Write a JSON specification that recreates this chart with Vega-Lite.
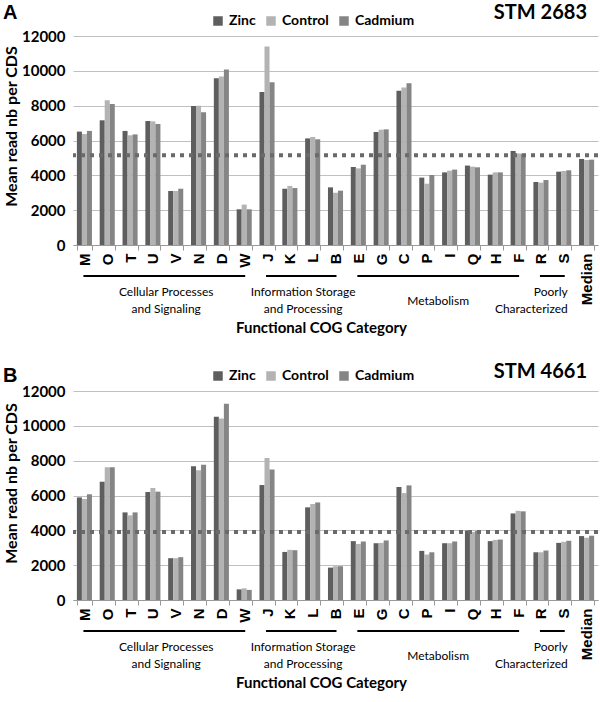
{
  "$schema": "https://vega.github.io/schema/vega-lite/v6.json",
  "padding": {"left": 3, "top": 3, "right": 2, "bottom": 0},
  "background": "white",
  "bounds": "flush",
  "spacing": 146,
  "config": {"view": {"stroke": null}, "font": "Lato"},
  "resolve": {"scale": {"color": "independent"}, "legend": {"color": "independent"}},
  "datasets": {
    "a": [
      {"c":"M","s":"Zinc","v":6510},{"c":"M","s":"Control","v":6370},{"c":"M","s":"Cadmium","v":6550},
      {"c":"O","s":"Zinc","v":7160},{"c":"O","s":"Control","v":8310},{"c":"O","s":"Cadmium","v":8100},
      {"c":"T","s":"Zinc","v":6550},{"c":"T","s":"Control","v":6300},{"c":"T","s":"Cadmium","v":6350},
      {"c":"U","s":"Zinc","v":7120},{"c":"U","s":"Control","v":7100},{"c":"U","s":"Cadmium","v":6950},
      {"c":"V","s":"Zinc","v":3100},{"c":"V","s":"Control","v":3100},{"c":"V","s":"Cadmium","v":3230},
      {"c":"N","s":"Zinc","v":7980},{"c":"N","s":"Control","v":8000},{"c":"N","s":"Cadmium","v":7620},
      {"c":"D","s":"Zinc","v":9570},{"c":"D","s":"Control","v":9680},{"c":"D","s":"Cadmium","v":10070},
      {"c":"W","s":"Zinc","v":2050},{"c":"W","s":"Control","v":2320},{"c":"W","s":"Cadmium","v":2050},
      {"c":"J","s":"Zinc","v":8780},{"c":"J","s":"Control","v":11400},{"c":"J","s":"Cadmium","v":9340},
      {"c":"K","s":"Zinc","v":3230},{"c":"K","s":"Control","v":3390},{"c":"K","s":"Cadmium","v":3270},
      {"c":"L","s":"Zinc","v":6120},{"c":"L","s":"Control","v":6200},{"c":"L","s":"Cadmium","v":6070},
      {"c":"B","s":"Zinc","v":3310},{"c":"B","s":"Control","v":3000},{"c":"B","s":"Cadmium","v":3120},
      {"c":"E","s":"Zinc","v":4480},{"c":"E","s":"Control","v":4400},{"c":"E","s":"Cadmium","v":4610},
      {"c":"G","s":"Zinc","v":6490},{"c":"G","s":"Control","v":6620},{"c":"G","s":"Cadmium","v":6640},
      {"c":"C","s":"Zinc","v":8860},{"c":"C","s":"Control","v":9050},{"c":"C","s":"Cadmium","v":9280},
      {"c":"P","s":"Zinc","v":3870},{"c":"P","s":"Control","v":3520},{"c":"P","s":"Cadmium","v":4020},
      {"c":"I","s":"Zinc","v":4170},{"c":"I","s":"Control","v":4270},{"c":"I","s":"Cadmium","v":4330},
      {"c":"Q","s":"Zinc","v":4560},{"c":"Q","s":"Control","v":4500},{"c":"Q","s":"Cadmium","v":4460},
      {"c":"H","s":"Zinc","v":4040},{"c":"H","s":"Control","v":4170},{"c":"H","s":"Cadmium","v":4170},
      {"c":"F","s":"Zinc","v":5400},{"c":"F","s":"Control","v":5260},{"c":"F","s":"Cadmium","v":5240},
      {"c":"R","s":"Zinc","v":3620},{"c":"R","s":"Control","v":3580},{"c":"R","s":"Cadmium","v":3730},
      {"c":"S","s":"Zinc","v":4210},{"c":"S","s":"Control","v":4250},{"c":"S","s":"Cadmium","v":4290},
      {"c":"Median","s":"Zinc","v":4940},{"c":"Median","s":"Control","v":4880},{"c":"Median","s":"Cadmium","v":4900}
    ],
    "b": [
      {"c":"M","s":"Zinc","v":5890},{"c":"M","s":"Control","v":5800},{"c":"M","s":"Cadmium","v":6070},
      {"c":"O","s":"Zinc","v":6790},{"c":"O","s":"Control","v":7620},{"c":"O","s":"Cadmium","v":7620},
      {"c":"T","s":"Zinc","v":5030},{"c":"T","s":"Control","v":4860},{"c":"T","s":"Cadmium","v":5030},
      {"c":"U","s":"Zinc","v":6200},{"c":"U","s":"Control","v":6430},{"c":"U","s":"Cadmium","v":6220},
      {"c":"V","s":"Zinc","v":2400},{"c":"V","s":"Control","v":2400},{"c":"V","s":"Cadmium","v":2460},
      {"c":"N","s":"Zinc","v":7680},{"c":"N","s":"Control","v":7450},{"c":"N","s":"Cadmium","v":7770},
      {"c":"D","s":"Zinc","v":10520},{"c":"D","s":"Control","v":10420},{"c":"D","s":"Cadmium","v":11270},
      {"c":"W","s":"Zinc","v":610},{"c":"W","s":"Control","v":670},{"c":"W","s":"Cadmium","v":580},
      {"c":"J","s":"Zinc","v":6600},{"c":"J","s":"Control","v":8160},{"c":"J","s":"Cadmium","v":7500},
      {"c":"K","s":"Zinc","v":2760},{"c":"K","s":"Control","v":2880},{"c":"K","s":"Cadmium","v":2860},
      {"c":"L","s":"Zinc","v":5320},{"c":"L","s":"Control","v":5510},{"c":"L","s":"Cadmium","v":5600},
      {"c":"B","s":"Zinc","v":1860},{"c":"B","s":"Control","v":1940},{"c":"B","s":"Cadmium","v":1940},
      {"c":"E","s":"Zinc","v":3380},{"c":"E","s":"Control","v":3220},{"c":"E","s":"Cadmium","v":3360},
      {"c":"G","s":"Zinc","v":3260},{"c":"G","s":"Control","v":3280},{"c":"G","s":"Cadmium","v":3420},
      {"c":"C","s":"Zinc","v":6490},{"c":"C","s":"Control","v":6140},{"c":"C","s":"Cadmium","v":6580},
      {"c":"P","s":"Zinc","v":2820},{"c":"P","s":"Control","v":2610},{"c":"P","s":"Cadmium","v":2740},
      {"c":"I","s":"Zinc","v":3260},{"c":"I","s":"Control","v":3260},{"c":"I","s":"Cadmium","v":3360},
      {"c":"Q","s":"Zinc","v":3990},{"c":"Q","s":"Control","v":3900},{"c":"Q","s":"Cadmium","v":3970},
      {"c":"H","s":"Zinc","v":3380},{"c":"H","s":"Control","v":3450},{"c":"H","s":"Cadmium","v":3470},
      {"c":"F","s":"Zinc","v":4970},{"c":"F","s":"Control","v":5120},{"c":"F","s":"Cadmium","v":5090},
      {"c":"R","s":"Zinc","v":2740},{"c":"R","s":"Control","v":2740},{"c":"R","s":"Cadmium","v":2840},
      {"c":"S","s":"Zinc","v":3280},{"c":"S","s":"Control","v":3340},{"c":"S","s":"Cadmium","v":3400},
      {"c":"Median","s":"Zinc","v":3670},{"c":"Median","s":"Control","v":3570},{"c":"Median","s":"Cadmium","v":3690}
    ],
    "medA": [{"m": 5150}],
    "medB": [{"m": 3900}],
    "spans": [
      {"c":"M","e":"W"},{"c":"J","e":"B"},{"c":"E","e":"F"},{"c":"R","e":"S"}
    ],
    "labels2": [
      {"c":"V","g":"Cellular Processes\nand Signaling"},
      {"c":"L","g":"Information Storage\nand Processing"}
    ],
    "labels1": [
      {"c":"I","g":"Metabolism"}
    ],
    "labelsR": [
      {"c":"S","g":"Poorly\nCharacterized"}
    ]
  },
  "vconcat": [
    {
      "width": 525, "height": 209,
      "layer": [
        {
          "data": {"name": "a"},
          "mark": {"type": "bar"},
          "encoding": {
            "x": {"field": "c", "type": "nominal", "sort": null,
              "scale": {"domain": ["M","O","T","U","V","N","D","W","J","K","L","B","E","G","C","P","I","Q","H","F","R","S","Median"], "paddingInner": 0.34, "paddingOuter": 0.17},
              "axis": {"title": "Functional COG Category", "labelAngle": 270, "labelFont": "Liberation Sans", "labelFontSize": 15, "labelFontWeight": "bold", "labelColor": "black", "labelPadding": 3, "tickBand": "extent", "tickSize": 5, "tickColor": "#999999", "domainColor": "#999999", "titleFont": "Lato", "titleFontSize": 15, "titleFontWeight": "bold", "titleColor": "black", "titlePadding": 16, "titleX": 248}},
            "xOffset": {"field": "s", "type": "nominal", "sort": null, "scale": {"domain": ["Zinc","Control","Cadmium"], "paddingInner": 0, "paddingOuter": 0}},
            "y": {"field": "v", "type": "quantitative",
              "scale": {"domain": [0, 12000], "nice": false},
              "axis": {"title": "Mean read nb per CDS", "values": [0,2000,4000,6000,8000,10000,12000], "format": "d", "labelOverlap": false, "labelFont": "Lato", "labelFontSize": 15, "labelFontWeight": "bold", "labelColor": "black", "labelPadding": 8, "domain": false, "ticks": false, "gridColor": "#c0c0c0", "titleFont": "Lato", "titleFontSize": 16, "titleFontWeight": "bold", "titleColor": "black", "titlePadding": 2, "titleY": 90}},
            "color": {"field": "s", "type": "nominal", "sort": null,
              "scale": {"domain": ["Zinc","Control","Cadmium"], "range": ["#5e5e5e","#b3b3b3","#858585"]},
              "legend": {"orient": "none", "legendX": 138, "legendY": -22, "direction": "horizontal", "title": null, "symbolType": "square", "symbolSize": 90, "symbolStrokeWidth": 0, "labelFont": "Lato", "labelFontSize": 14, "labelFontWeight": "bold", "labelColor": "black", "columnPadding": 8, "labelOffset": 4}}
          }
        },
        {
          "data": {"name": "medA"},
          "mark": {"type": "rule", "stroke": "#6a6a6a", "strokeWidth": 4, "strokeDash": [4, 5]},
          "encoding": {"y": {"field": "m", "type": "quantitative", "axis": {"title": "Mean read nb per CDS", "values": [0,2000,4000,6000,8000,10000,12000], "format": "d", "labelOverlap": false}}}
        },
        {
          "data": {"name": "spans"},
          "mark": {"type": "rule", "stroke": "black", "strokeWidth": 2, "strokeCap": "square"},
          "encoding": {"x": {"field": "c", "type": "nominal"}, "x2": {"field": "e"}, "y": {"datum": -1780, "axis": {"title": "Mean read nb per CDS", "values": [0,2000,4000,6000,8000,10000,12000], "format": "d", "labelOverlap": false}}}
        },
        {
          "data": {"name": "labels2"},
          "mark": {"type": "text", "font": "Lato", "fontSize": 12, "color": "black", "align": "center", "baseline": "middle", "lineBreak": "\n", "lineHeight": 17, "dx": -2},
          "encoding": {"x": {"field": "c", "type": "nominal", "bandPosition": 0}, "y": {"datum": -2700, "axis": {"title": "Mean read nb per CDS", "values": [0,2000,4000,6000,8000,10000,12000], "format": "d", "labelOverlap": false}}, "text": {"field": "g"}}
        },
        {
          "data": {"name": "labels1"},
          "mark": {"type": "text", "font": "Lato", "fontSize": 12, "color": "black", "align": "center", "baseline": "middle", "dx": -4},
          "encoding": {"x": {"field": "c", "type": "nominal", "bandPosition": 0}, "y": {"datum": -3190, "axis": {"title": "Mean read nb per CDS", "values": [0,2000,4000,6000,8000,10000,12000], "format": "d", "labelOverlap": false}}, "text": {"field": "g"}}
        },
        {
          "data": {"name": "labelsR"},
          "mark": {"type": "text", "font": "Lato", "fontSize": 12, "color": "black", "align": "right", "baseline": "middle", "lineBreak": "\n", "lineHeight": 17, "dx": 4},
          "encoding": {"x": {"field": "c", "type": "nominal"}, "y": {"datum": -2700, "axis": {"title": "Mean read nb per CDS", "values": [0,2000,4000,6000,8000,10000,12000], "format": "d", "labelOverlap": false}}, "text": {"field": "g"}}
        },
        {
          "data": {"values": [{"t": "A", "n": "STM 2683"}]},
          "layer": [
            {"mark": {"type": "text", "font": "Liberation Sans", "fontSize": 20, "fontWeight": "bold", "color": "black", "align": "left", "baseline": "top"},
             "encoding": {"x": {"value": -70}, "y": {"value": -33}, "text": {"field": "t"}}},
            {"mark": {"type": "text", "font": "Lato", "fontSize": 20, "fontWeight": "bold", "color": "black", "align": "right", "baseline": "top"},
             "encoding": {"x": {"value": 514}, "y": {"value": -33}, "text": {"field": "n"}}}
          ]
        }
      ]
    },
    {
      "width": 525, "height": 209,
      "layer": [
        {
          "data": {"name": "b"},
          "mark": {"type": "bar"},
          "encoding": {
            "x": {"field": "c", "type": "nominal", "sort": null,
              "scale": {"domain": ["M","O","T","U","V","N","D","W","J","K","L","B","E","G","C","P","I","Q","H","F","R","S","Median"], "paddingInner": 0.34, "paddingOuter": 0.17},
              "axis": {"title": "Functional COG Category", "labelAngle": 270, "labelFont": "Liberation Sans", "labelFontSize": 15, "labelFontWeight": "bold", "labelColor": "black", "labelPadding": 3, "tickBand": "extent", "tickSize": 5, "tickColor": "#999999", "domainColor": "#999999", "titleFont": "Lato", "titleFontSize": 15, "titleFontWeight": "bold", "titleColor": "black", "titlePadding": 16, "titleX": 248}},
            "xOffset": {"field": "s", "type": "nominal", "sort": null, "scale": {"domain": ["Zinc","Control","Cadmium"], "paddingInner": 0, "paddingOuter": 0}},
            "y": {"field": "v", "type": "quantitative",
              "scale": {"domain": [0, 12000], "nice": false},
              "axis": {"title": "Mean read nb per CDS", "values": [0,2000,4000,6000,8000,10000,12000], "format": "d", "labelOverlap": false, "labelFont": "Lato", "labelFontSize": 15, "labelFontWeight": "bold", "labelColor": "black", "labelPadding": 8, "domain": false, "ticks": false, "gridColor": "#c0c0c0", "titleFont": "Lato", "titleFontSize": 16, "titleFontWeight": "bold", "titleColor": "black", "titlePadding": 2, "titleY": 92}},
            "color": {"field": "s", "type": "nominal", "sort": null,
              "scale": {"domain": ["Zinc","Control","Cadmium"], "range": ["#5e5e5e","#b3b3b3","#858585"]},
              "legend": {"orient": "none", "legendX": 138, "legendY": -22, "direction": "horizontal", "title": null, "symbolType": "square", "symbolSize": 90, "symbolStrokeWidth": 0, "labelFont": "Lato", "labelFontSize": 14, "labelFontWeight": "bold", "labelColor": "black", "columnPadding": 8, "labelOffset": 4}}
          }
        },
        {
          "data": {"name": "medB"},
          "mark": {"type": "rule", "stroke": "#6a6a6a", "strokeWidth": 4, "strokeDash": [4, 5]},
          "encoding": {"y": {"field": "m", "type": "quantitative", "axis": {"title": "Mean read nb per CDS", "values": [0,2000,4000,6000,8000,10000,12000], "format": "d", "labelOverlap": false}}}
        },
        {
          "data": {"name": "spans"},
          "mark": {"type": "rule", "stroke": "black", "strokeWidth": 2, "strokeCap": "square"},
          "encoding": {"x": {"field": "c", "type": "nominal"}, "x2": {"field": "e"}, "y": {"datum": -1780, "axis": {"title": "Mean read nb per CDS", "values": [0,2000,4000,6000,8000,10000,12000], "format": "d", "labelOverlap": false}}}
        },
        {
          "data": {"name": "labels2"},
          "mark": {"type": "text", "font": "Lato", "fontSize": 12, "color": "black", "align": "center", "baseline": "middle", "lineBreak": "\n", "lineHeight": 17, "dx": -2},
          "encoding": {"x": {"field": "c", "type": "nominal", "bandPosition": 0}, "y": {"datum": -2700, "axis": {"title": "Mean read nb per CDS", "values": [0,2000,4000,6000,8000,10000,12000], "format": "d", "labelOverlap": false}}, "text": {"field": "g"}}
        },
        {
          "data": {"name": "labels1"},
          "mark": {"type": "text", "font": "Lato", "fontSize": 12, "color": "black", "align": "center", "baseline": "middle", "dx": -4},
          "encoding": {"x": {"field": "c", "type": "nominal", "bandPosition": 0}, "y": {"datum": -3190, "axis": {"title": "Mean read nb per CDS", "values": [0,2000,4000,6000,8000,10000,12000], "format": "d", "labelOverlap": false}}, "text": {"field": "g"}}
        },
        {
          "data": {"name": "labelsR"},
          "mark": {"type": "text", "font": "Lato", "fontSize": 12, "color": "black", "align": "right", "baseline": "middle", "lineBreak": "\n", "lineHeight": 17, "dx": 4},
          "encoding": {"x": {"field": "c", "type": "nominal"}, "y": {"datum": -2700, "axis": {"title": "Mean read nb per CDS", "values": [0,2000,4000,6000,8000,10000,12000], "format": "d", "labelOverlap": false}}, "text": {"field": "g"}}
        },
        {
          "data": {"values": [{"t": "B", "n": "STM 4661"}]},
          "layer": [
            {"mark": {"type": "text", "font": "Liberation Sans", "fontSize": 20, "fontWeight": "bold", "color": "black", "align": "left", "baseline": "top"},
             "encoding": {"x": {"value": -70}, "y": {"value": -25}, "text": {"field": "t"}}},
            {"mark": {"type": "text", "font": "Lato", "fontSize": 20, "fontWeight": "bold", "color": "black", "align": "right", "baseline": "top"},
             "encoding": {"x": {"value": 514}, "y": {"value": -29}, "text": {"field": "n"}}}
          ]
        }
      ]
    }
  ]
}
